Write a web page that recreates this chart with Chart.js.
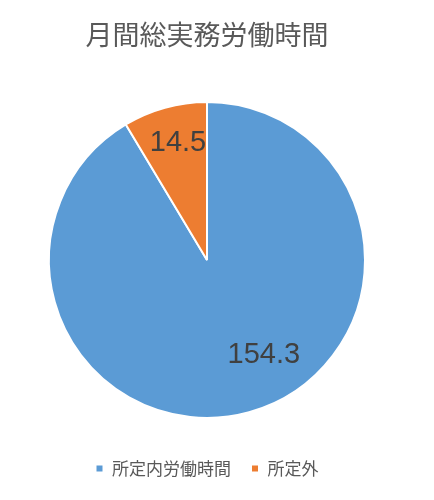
<!DOCTYPE html>
<html>
<head>
<meta charset="utf-8">
<script src="https://cdn.jsdelivr.net/npm/chart.js@4/dist/chart.umd.min.js"></script>
<style>
  html, body { margin: 0; padding: 0; background: #fff; }
  #wrap { width: 434px; height: 500px; }
</style>
</head>
<body>
<div id="wrap"><canvas id="hoursPie"></canvas></div>
<script>
var categories = ['所定内労働時間', '所定外'];
var hours = [154.3, 14.5];
var sliceColors = ['#5B9BD5', '#ED7D31'];

// draws the value inside each slice, like Excel's data labels
var sliceLabels = {
    id: 'sliceLabels',
    afterDatasetsDraw: function (chart, args, opts) {
        var ctx = chart.ctx;
        var meta = chart.getDatasetMeta(0);
        ctx.save();
        ctx.font = opts.font;
        ctx.fillStyle = opts.color;
        ctx.textAlign = 'center';
        ctx.textBaseline = 'middle';
        meta.data.forEach(function (arc, i) {
            var p = arc.getProps(['x', 'y', 'startAngle', 'endAngle', 'outerRadius'], true);
            var mid = (p.startAngle + p.endAngle) / 2 + opts.shift[i] * Math.PI / 180;
            var r = p.outerRadius * opts.offset[i];
            ctx.fillText(chart.data.datasets[0].data[i].toFixed(1), p.x + Math.cos(mid) * r, p.y + Math.sin(mid) * r);
        });
        ctx.restore();
    }
};

new Chart(document.getElementById('hoursPie'), {
    type: 'pie',
    data: {
        labels: categories,
        datasets: [{
            data: hours,
            backgroundColor: sliceColors,
            borderColor: '#ffffff',
            borderWidth: 2,
            radius: 158
        }]
    },
    options: {
        responsive: true,
        maintainAspectRatio: false,
        animation: false,
        layout: { padding: { top: 0, right: 20, bottom: 13, left: 0 } },
        plugins: {
            title: {
                display: true,
                text: '月間総実務労働時間',
                color: '#595959',
                font: { family: "'Noto Sans CJK JP', sans-serif", size: 27, weight: 'normal' },
                padding: { top: 19, bottom: 28.6 }
            },
            legend: {
                position: 'bottom',
                labels: {
                    color: '#595959',
                    boxWidth: 8,
                    boxHeight: 8,
                    padding: 20,
                    font: { family: "'Noto Sans CJK JP', sans-serif", size: 17 }
                }
            },
            tooltip: { enabled: false },
            sliceLabels: {
                font: "29px 'Liberation Sans', Arial, sans-serif",
                color: '#404040',
                offset: [0.70, 0.76],
                shift: [-15.5, 1.5]
            }
        }
    },
    plugins: [sliceLabels]
});
</script>
</body>
</html>
